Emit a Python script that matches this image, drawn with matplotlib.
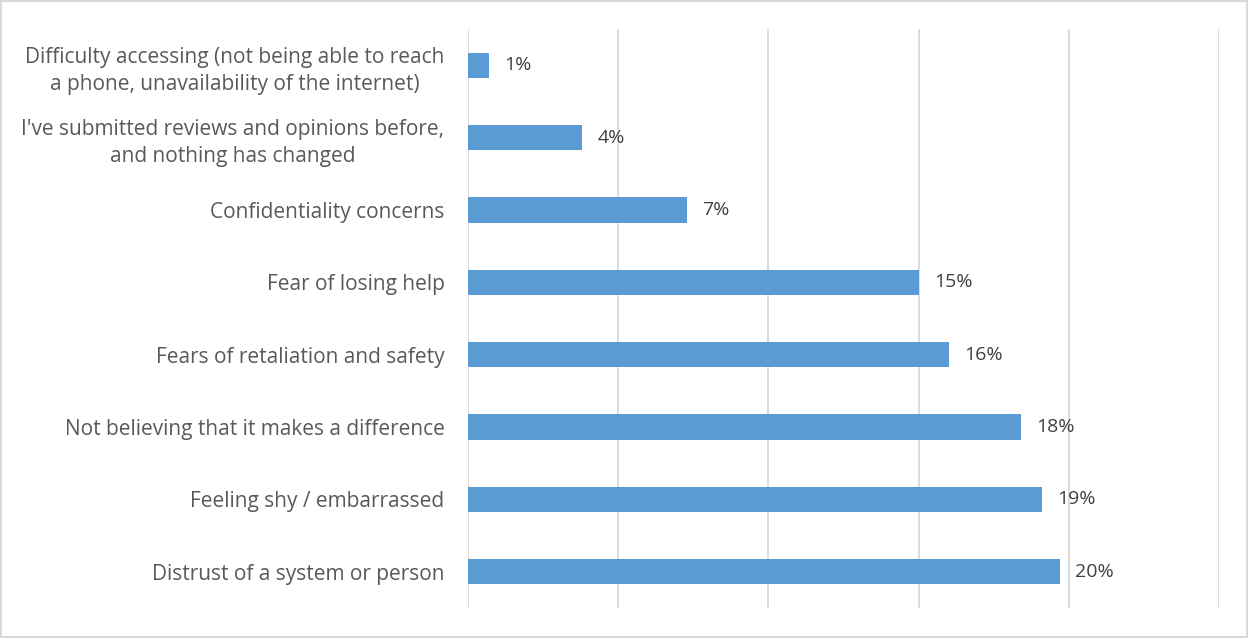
import matplotlib
matplotlib.use("Agg")
import matplotlib.pyplot as plt
from matplotlib.patches import Rectangle

# data (top to bottom as in the chart)
categories = [
    "Difficulty accessing (not being able to reach\na phone, unavailability of the internet)",
    "I've submitted reviews and opinions before,\nand nothing has changed",
    "Confidentiality concerns",
    "Fear of losing help",
    "Fears of retaliation and safety",
    "Not believing that it makes a difference",
    "Feeling shy / embarrassed",
    "Distrust of a system or person",
]
values = [0.7, 3.8, 7.3, 15.0, 16.0, 18.4, 19.1, 19.7]
value_labels = ["1%", "4%", "7%", "15%", "16%", "18%", "19%", "20%"]

plt.rcParams['font.family'] = ['Open Sans', 'DejaVu Sans']

fig = plt.figure(figsize=(12.49, 6.38), dpi=100)
ax = fig.add_axes([0.3747, 0.047, 0.976 - 0.3747, 0.9545 - 0.047])

pos = list(range(len(categories)))
ax.barh(pos, values, height=0.35, color='#5B9BD5', zorder=3)
for p, v, lab in zip(pos, values, value_labels):
    ax.annotate(lab, (v, p), xytext=(11, 0), textcoords='offset points',
                va='center', ha='left', fontsize=14, color='#404040')

ax.set_xlim(0, 25)
ax.set_ylim(len(categories) - 0.5, -0.5)
ax.set_xticks([0, 5, 10, 15, 20, 25])
ax.set_xticklabels([])
ax.tick_params(axis='x', length=0)
ax.grid(axis='x', color='#D9D9D9', linewidth=1.3, zorder=0)
ax.set_yticks(pos)
ax.set_yticklabels(categories, fontsize=15, color='#595959',
                   multialignment='center', linespacing=1.4)
ax.tick_params(axis='y', length=0, pad=17)
for s in ax.spines.values():
    s.set_visible(False)

fig.patches.append(Rectangle((0.0005, 0.001), 0.998, 0.997, transform=fig.transFigure,
                             fill=False, edgecolor='#D9D9D9', linewidth=1.5))

fig.savefig('out.png', dpi=100)
